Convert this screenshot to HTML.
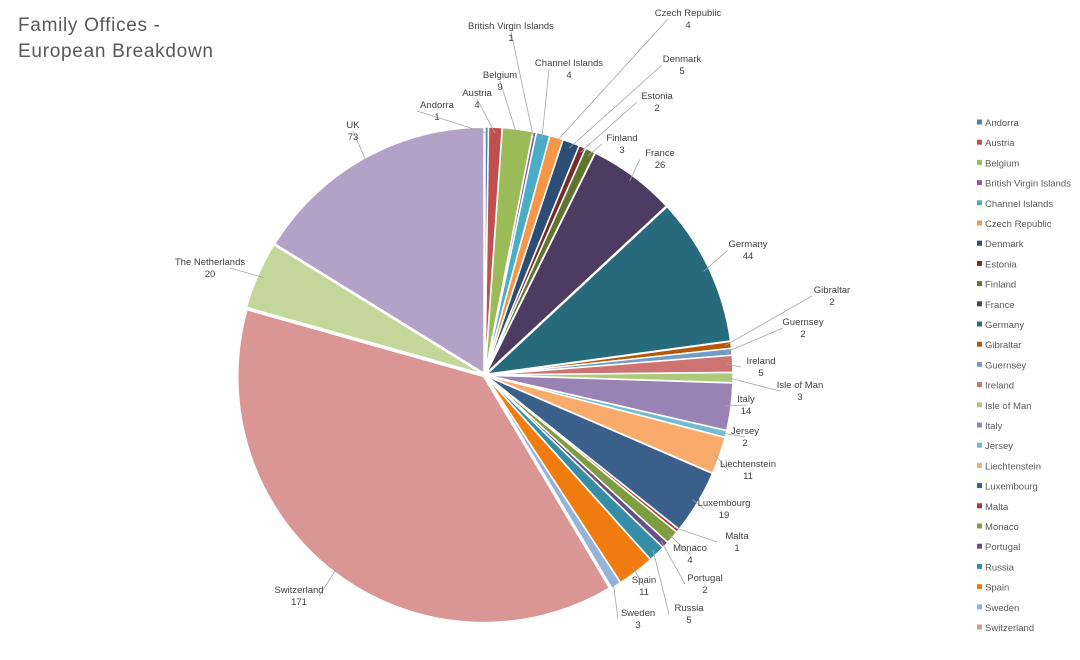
<!DOCTYPE html>
<html><head><meta charset="utf-8"><style>
body{margin:0;background:#fff;width:1080px;height:655px;overflow:hidden;font-family:"Liberation Sans",sans-serif}
</style></head><body>
<svg id="s" width="1080" height="655" xmlns="http://www.w3.org/2000/svg" font-family="Liberation Sans, sans-serif">
<text x="18" y="31" font-size="19" fill="#595959" textLength="142">Family Offices -</text>
<text x="18" y="57" font-size="19" fill="#595959" textLength="195">European  Breakdown</text>
<g id="pie"></g><g id="lines"></g><g id="labels" font-size="9.5" fill="#404040" text-anchor="middle"></g><g id="leg" font-size="9.5" fill="#595959"></g>
</svg>
<script>
var d=[["Andorra",1,"#4f81bd",437,104],["Austria",4,"#c0504d",477,92],["Belgium",9,"#9bbb59",500,74],["British Virgin Islands",1,"#8064a2",511,25],["Channel Islands",4,"#4bacc6",569,62],["Czech Republic",4,"#f79646",688,12],["Denmark",5,"#2c4d75",682,58],["Estonia",2,"#772c2a",657,95],["Finland",3,"#5f7530",622,137],["France",26,"#4d3b62",660,152],["Germany",44,"#276a7c",748,243],["Gibraltar",2,"#b65708",832,289],["Guernsey",2,"#729aca",803,321],["Ireland",5,"#cd7371",761,360],["Isle of Man",3,"#afc97a",800,384],["Italy",14,"#9983b5",746,398],["Jersey",2,"#6fbdd1",745,430],["Liechtenstein",11,"#f9ab6b",748,463],["Luxembourg",19,"#3a5f8b",724,502],["Malta",1,"#9f3b38",737,535],["Monaco",4,"#7e9c40",690,547],["Portugal",2,"#664f83",705,577],["Russia",5,"#358ea6",689,607],["Spain",11,"#f07b0f",644,579],["Sweden",3,"#95b3d7",638,612],["Switzerland",171,"#d99694",299,589],["The Netherlands",20,"#c4d79b",210,261],["UK",73,"#b2a2c7",353,124]];
var cx=485,cy=375,r=246,T=451,a=0,ns="http://www.w3.org/2000/svg";
function el(p,t,at,tx){var e=document.createElementNS(ns,t);for(var k in at)e.setAttribute(k,at[k]);if(tx!=null)e.textContent=tx;document.getElementById(p).appendChild(e);return e;}
function pt(an,rr){return [cx+rr*Math.sin(an),cy-rr*Math.cos(an)];}
d.forEach(function(o,i){var a1=a+o[1]/T*2*Math.PI,m=(a+a1)/2,ox=2*Math.sin(m),oy=-2*Math.cos(m);
var p0=pt(a,r),p1=pt(a1,r),lg=(a1-a)>Math.PI?1:0;
el("pie","path",{d:"M"+(cx+ox)+","+(cy+oy)+"L"+(p0[0]+ox)+","+(p0[1]+oy)+"A"+r+","+r+" 0 "+lg+" 1 "+(p1[0]+ox)+","+(p1[1]+oy)+"Z",fill:o[2],stroke:"#fff","stroke-width":1.5});
var e=pt(m,r-4),lx=o[3];
var dx=lx-e[0];
var ax=e[0]<cx?lx+20:lx-20; if(Math.abs(dx)<25) ax=lx;
el("lines","polyline",{points:e[0]+","+e[1]+" "+ax+","+(o[4]+7),fill:"none",stroke:"#a6a6a6","stroke-width":0.8});
el("labels","text",{x:lx,y:o[4]+4},o[0]);el("labels","text",{x:lx,y:o[4]+16},o[1]);
a=a1;
if(i<26){var y=123+i*20.2;el("leg","rect",{x:977,y:y-3.5,width:5,height:5,fill:o[2]});el("leg","text",{x:985,y:y+3},o[0]);}
});
</script>
</body></html>
